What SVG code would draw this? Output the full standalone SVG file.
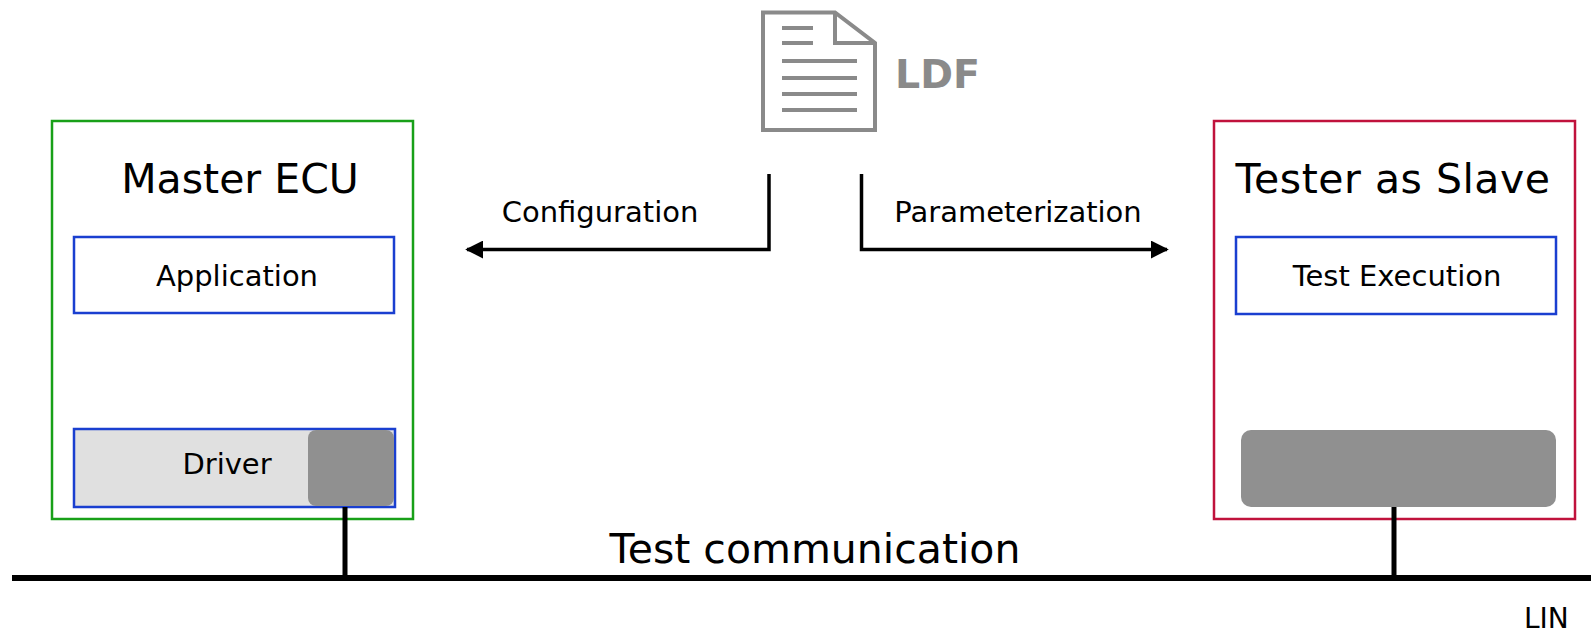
<svg xmlns="http://www.w3.org/2000/svg" width="1591" height="632" viewBox="0 0 1591 632">
<defs>
<style>
text{font-family:"DejaVu Sans","Verdana",sans-serif;fill:#000}
.big{font-size:41px;text-anchor:middle}
.lbl{font-size:29px;text-anchor:middle}
.ecu{fill:#fff;stroke-width:2.5}
.inner{fill:#fff;stroke:#1a3fd0;stroke-width:2.5}
.conn{fill:none;stroke:#000;stroke-width:3.5}
.bus{stroke:#000;stroke-width:6;fill:none}
.tap{stroke:#000;stroke-width:5;fill:none}
.port{fill:#909090}
.doc{fill:none;stroke:#8a8a8a;stroke-width:4}
</style>
<marker id="ah" viewBox="0 0 10 10" refX="9" refY="5" markerWidth="18" markerHeight="18" markerUnits="userSpaceOnUse" orient="auto">
<path d="M0,0 L10,5 L0,10 z" fill="#000"/>
</marker>
</defs>
<rect width="1591" height="632" fill="#fff"/>

<g id="ldf">
<path class="doc" d="M763,12.5 H835 L875,43 V130 H763 Z"/>
<path class="doc" d="M835,12.5 V43 H875"/>
<path class="doc" d="M782,28 H813 M782,43 H813 M782,61 H857 M782,78 H857 M782,94 H857 M782,110 H857"/>
<text x="895" y="88" style="font-size:39.5px;font-weight:bold;fill:#8a8a8a">LDF</text>
</g>

<g id="master">
<rect class="ecu" x="52" y="121" width="361" height="398" stroke="#18a018"/>
<text class="big" x="240" y="193">Master ECU</text>
</g>
<g id="application">
<rect class="inner" x="74" y="237" width="320" height="76"/>
<text class="lbl" x="237" y="286">Application</text>
</g>
<g id="driver">
<rect class="inner" x="74" y="429" width="321" height="78" style="fill:#e0e0e0"/>
<rect class="port" x="308" y="430" width="86" height="76" rx="8"/>
<text class="lbl" x="227" y="474">Driver</text>
</g>

<g id="tester">
<rect class="ecu" x="1214" y="121" width="361" height="398" stroke="#c0123c"/>
<text class="big" x="1393" y="193" style="letter-spacing:0.5px">Tester as Slave</text>
</g>
<g id="testexec">
<rect class="inner" x="1236" y="237" width="320" height="77"/>
<text class="lbl" x="1397" y="286">Test Execution</text>
</g>
<g id="testerport">
<rect class="port" x="1241" y="430" width="315" height="77" rx="10"/>
</g>

<g id="connectors">
<path class="conn" d="M769,174 V249.5 H467" marker-end="url(#ah)"/>
<path class="conn" d="M861.5,174 V249.5 H1167" marker-end="url(#ah)"/>
<path class="tap" d="M345,507 V578"/>
<path class="tap" d="M1394,507 V578"/>
<path class="bus" d="M12,578 H1591"/>
</g>

<g id="labels">
<text class="lbl" x="600" y="222">Configuration</text>
<text class="lbl" x="1018" y="222">Parameterization</text>
<text class="big" x="815" y="563">Test communication</text>
<text x="1524" y="628" style="font-size:28px">LIN</text>
</g>
</svg>
